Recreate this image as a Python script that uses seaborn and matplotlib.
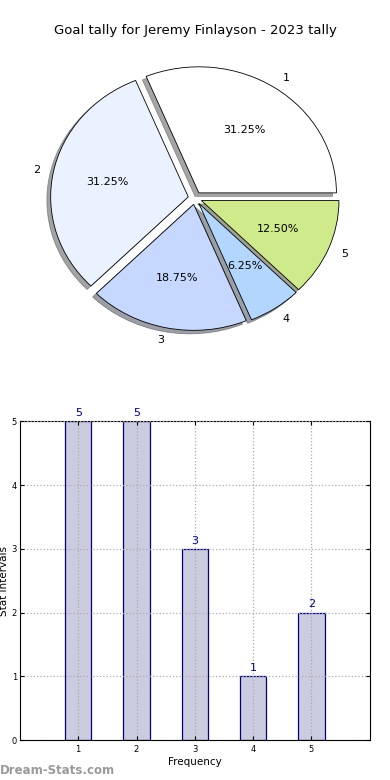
import matplotlib
matplotlib.use("Agg")
import matplotlib.pyplot as plt
import seaborn as sns
import pandas as pd

# data
categories = ["1", "2", "3", "4", "5"]
goals = [5, 5, 3, 1, 2]
pie_colors = ["#FFFFFF", "#EBF2FF", "#C6D8FF", "#B3D6FF", "#CFEA8A"]
explode = [0.05, 0.05, 0.05, 0.05, 0.05]
title = "Goal tally for Jeremy Finlayson - 2023 tally"

sns.set_style("white")
plt.rcParams["font.family"] = ["DejaVu Sans"]
plt.rcParams["text.color"] = "black"
plt.rcParams["axes.labelcolor"] = "black"
plt.rcParams["xtick.color"] = "black"
plt.rcParams["ytick.color"] = "black"

fig = plt.figure(figsize=(3.9, 7.8), dpi=100)

# ---- pie ----
ax_pie = fig.add_axes([0.059, 0.544, 0.882, 0.404])
wedges, texts, autotexts = ax_pie.pie(
    goals, labels=categories, colors=pie_colors, explode=explode,
    shadow=True, startangle=0, autopct="%.2f%%",
    wedgeprops=dict(edgecolor="black", linewidth=0.6),
    textprops=dict(fontsize=8, color="black"), labeldistance=1.1)
ax_pie.set_aspect("auto")
fig.text(0.5, 0.961, title, ha="center", va="center", fontsize=9.5)

# ---- bar ----
ax_bar = fig.add_axes([0.051, 0.051, 0.897, 0.409])
df = pd.DataFrame({"cat": categories, "goals": goals})
sns.barplot(data=df, x="cat", y="goals", order=categories, ax=ax_bar,
            color="#CCCCE0", saturation=1, width=0.45,
            edgecolor="#000080", linewidth=0.9)
for p, v in zip(ax_bar.patches, goals):
    ax_bar.text(p.get_x() + p.get_width() / 2, v + 0.05, str(v),
                ha="center", va="bottom", color="#000080", fontsize=8)
ax_bar.set_xlim(-1, 5)
ax_bar.set_ylim(0, 5)
ax_bar.set_yticks(range(0, 6))
ax_bar.grid(True, linestyle=":", color="#aaaaaa", linewidth=0.9)
ax_bar.set_axisbelow(False)
ax_bar.tick_params(labelsize=6, direction="in", length=3, top=True, right=True,
                   left=True, bottom=True)
ax_bar.tick_params(axis="y", pad=2)
for s in ax_bar.spines.values():
    s.set_color("black")
    s.set_linewidth(0.8)
ax_bar.set_xlabel("Frequency", fontsize=7.5, labelpad=2)
ax_bar.set_ylabel("Stat Intervals", fontsize=7.5)
ax_bar.yaxis.set_label_coords(-0.03, 0.5)

fig.text(0.0, 0.012, "Dream-Stats.com", color="#999999", fontsize=8.5,
         fontweight="bold", ha="left", va="center")

fig.savefig("out.png", dpi=100)
